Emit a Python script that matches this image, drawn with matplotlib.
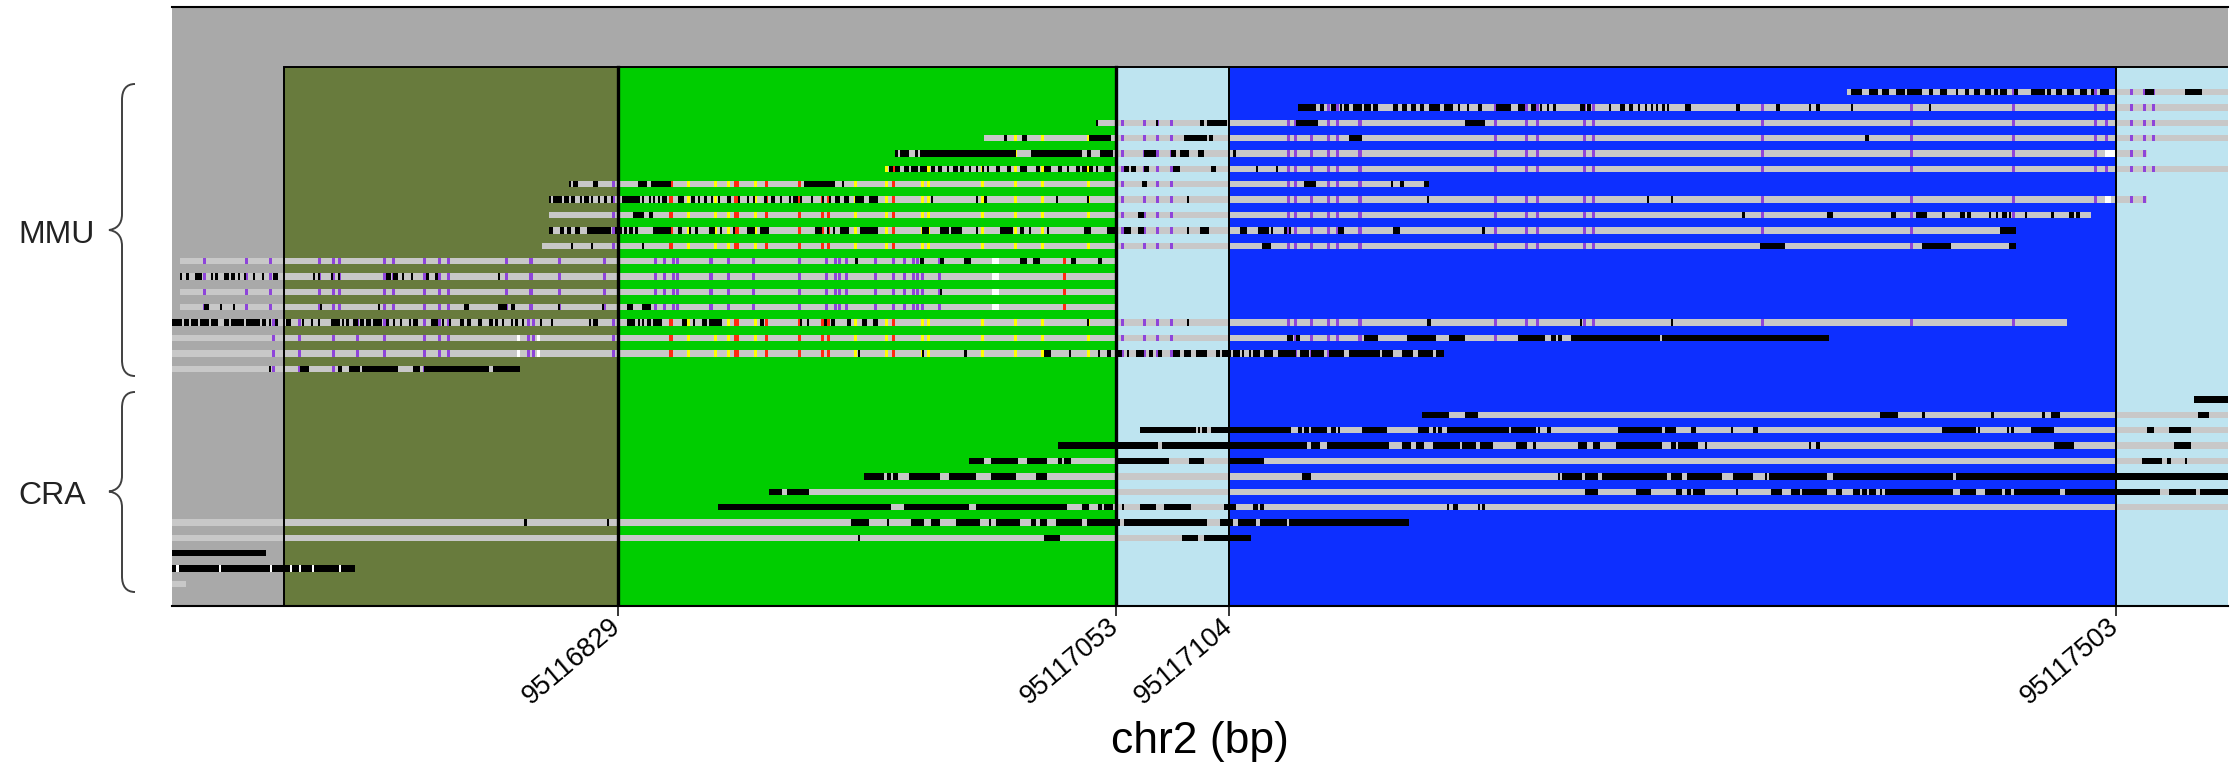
import matplotlib
matplotlib.use("Agg")
import matplotlib.pyplot as plt
from matplotlib.patches import Rectangle, PathPatch
from matplotlib.path import Path

plt.rcParams['font.family'] = ['Liberation Sans', 'DejaVu Sans']

# ---------------- data (bp offsets relative to BP0) ----------------
BP0 = 95116600
X_RANGE = (28.5, 953.5)

REGION_START = [79, 229, 453, 504, 903]
REGION_END = [229, 453, 504, 903, 960]
REGION_COLOR = ['#687B3D', '#00CD00', '#BEE4F0', '#0D2FFF', '#BEE4F0']

TICK_BP = [95116829, 95117053, 95117104, 95117503]
TICK_LABELS = ['95116829', '95117053', '95117104', '95117503']
X_LABEL = 'chr2 (bp)'

GROUP_LABELS = ['MMU', 'CRA']

READ_ROW = list(range(0, 19)) + list(range(20, 33))
READ_START = [782, 535, 444, 394, 354, 350, 207, 198, 198, 198, 195, 32, 32, 32, 32, 20, 20, 20, 20,
              938, 591, 464, 427, 387, 340, 297, 274, 20, 20, 20, 20, 20]
READ_END = [960, 960, 960, 960, 917, 960, 594, 917, 892, 858, 858, 453, 453, 453, 453, 881, 774, 601, 185,
            960, 960, 960, 960, 960, 960, 960, 960, 585, 514, 71, 111, 35]

PURPLE_P1 = [43, 62, 73, 95, 101, 104, 124, 128, 142, 149, 153, 179, 190, 203, 223, 246, 250, 254, 256,
             271, 279, 290, 311, 323, 327, 329, 332, 345, 353, 358, 362, 364, 366, 374]
PURPLE_P2 = [456, 466, 472, 478, 531, 534, 541, 549, 553, 563, 624, 638, 643, 664, 668, 744, 811, 857,
             894, 899, 910, 916, 920]
PURPLE_P3 = [74, 86, 101, 112, 124, 142, 149, 153, 189, 191, 227]
GREEN_RED = [253, 282, 283, 296, 311, 321, 324, 353]
GREEN_YELLOW = [261, 273, 279, 291, 336, 350, 366, 369, 393, 408, 420, 441]
RED_P1 = [430]

READ_SETS = ([['P2'], ['P2']] + [['GR', 'GY', 'P2']] * 4 + [['P3', 'GR', 'GY', 'P2']] * 5 +
             [['P1', 'R1']] * 4 + [['P3', 'GR', 'GY', 'P2']] * 3 + [['P3']] + [[]] * 13)

READ_WHITE = [[], [], [], [], [(898, 903)], [], [], [(898, 901)], [], [], [],
              [(397.5, 400.5)], [(397.5, 400.5)], [(397.5, 400.5)], [(397.5, 400.5)],
              [], [(183.5, 185), (192.5, 194)], [(183.5, 185), (192.5, 194)], [],
              [], [], [], [], [], [], [], [], [], [], [],
              [(30.5, 31.5), (49.5, 50.5), (72.5, 73.5), (81.5, 82.5), (85.5, 86.5), (91.5, 92.5), (103.5, 104.5)],
              []]

READ_BLACK = [
    [(784, 789), (792, 796), (798, 801), (804, 808), (809, 816), (819, 821), (824, 827), (831, 832), (835, 837),
     (839, 842), (844, 847), (848, 850), (851, 854), (857, 859), (865, 871), (872, 874), (876, 879), (881, 884),
     (887, 890), (892, 893), (896, 900), (916, 920), (934, 942)],
    [(535, 543), (545, 547), (550, 552), (554, 555), (556, 558), (560, 564), (565, 568), (569, 571), (578, 580),
     (582, 584), (586, 588), (590, 592), (594, 599), (601, 605), (607, 608), (611, 612), (616, 618), (624, 631),
     (634, 637), (640, 642), (644, 645), (647, 648), (650, 651), (662, 664), (665, 667), (675, 676), (680, 682),
     (684, 686), (688, 689), (691, 692), (694, 695), (696, 697), (699, 700), (701, 702), (709, 712), (732, 734),
     (750, 752), (765, 766), (768, 770), (784, 785), (819, 820)],
    [(444, 445), (471, 472), (491, 493), (494, 503), (534, 544), (610, 619)],
    [(403, 404), (411, 413), (441, 451), (484, 494), (495, 497), (558, 564), (790, 792)],
    [(354, 355), (356, 360), (363, 364), (365, 408), (415, 438), (440, 442), (446, 452), (466, 471), (478, 480),
     (482, 486), (490, 493), (506, 507)],
    [(351, 353), (354, 356), (358, 360), (361, 364), (365, 368), (370, 372), (373, 375), (377, 378), (380, 382),
     (383, 385), (387, 388), (390, 391), (393, 394), (395, 396), (399, 401), (404, 406), (410, 413), (417, 419),
     (421, 424), (427, 429), (431, 432), (435, 437), (438, 440), (441, 443), (444, 445), (448, 451), (457, 459),
     (460, 462), (466, 468), (479, 482), (496, 498), (516, 517), (525, 526)],
    [(207, 208), (209, 211), (218, 220), (238, 242), (244, 253), (313, 327), (330, 331), (465, 467), (538, 543),
     (577, 578), (581, 583), (592, 594)],
    [(198, 199), (200, 204), (205, 207), (208, 210), (212, 213), (214, 216), (217, 218), (220, 221), (223, 224),
     (226, 227), (231, 239), (240, 241), (243, 244), (245, 246), (247, 248), (249, 251), (256, 259), (262, 264),
     (265, 266), (268, 269), (271, 272), (274, 275), (278, 280), (283, 284), (287, 288), (290, 291), (295, 296),
     (298, 300), (302, 303), (306, 307), (308, 310), (311, 312), (316, 317), (321, 322), (324, 325), (327, 329),
     (331, 333), (336, 340), (342, 346), (370, 371), (390, 391), (394, 395), (426, 427), (440, 441), (485, 486),
     (593, 594), (692, 693), (703, 704)],
    [(236, 241), (243, 245), (463, 466), (735, 736), (773, 776), (802, 804), (813, 818), (825, 826), (833, 835),
     (836, 838), (846, 847), (849, 850), (852, 854), (855, 856), (862, 863), (874, 875), (882, 884), (885, 887)],
    [(198, 200), (203, 205), (206, 208), (210, 212), (215, 226), (228, 229), (230, 231), (232, 233), (234, 236),
     (237, 238), (245, 253), (256, 258), (261, 262), (264, 265), (270, 273), (275, 276), (281, 282), (287, 291),
     (293, 297), (318, 321), (323, 324), (326, 327), (329, 333), (338, 346), (366, 369), (374, 378), (379, 384),
     (390, 391), (401, 407), (410, 412), (414, 415), (422, 423), (439, 442), (449, 453), (457, 460), (463, 466),
     (485, 486), (491, 495), (509, 512), (517, 522), (523, 524), (529, 530), (531, 532), (553, 556), (578, 581),
     (618, 619), (851, 858)],
    [(208, 209), (217, 218), (240, 241), (519, 523), (743, 754), (816, 829), (855, 858)],
    [(336, 337), (365, 367), (374, 376), (385, 388), (410, 413), (416, 419), (433, 435), (445, 447)],
    [(32, 33), (35, 36), (39, 42), (46, 47), (48, 49), (52, 54), (55, 57), (58, 59), (61, 62), (65, 66), (69, 70),
     (74, 76), (92, 93), (94, 95), (100, 101), (103, 104), (125, 127), (128, 130), (132, 133), (136, 137),
     (143, 144), (147, 148), (175, 176)],
    [(374, 375)],
    [(43, 45), (50, 51), (56, 57), (95, 96), (121, 122), (160, 162), (175, 179), (181, 183), (202, 203),
     (222, 223), (233, 236), (240, 244)],
    [(20, 33), (34, 36), (37, 40), (41, 45), (46, 49), (52, 54), (55, 61), (62, 68), (69, 71), (72, 73), (75, 76),
     (80, 82), (87, 88), (91, 92), (94, 95), (100, 104), (105, 106), (107, 108), (110, 112), (113, 115),
     (116, 118), (119, 123), (125, 126), (128, 129), (131, 132), (135, 136), (137, 139), (145, 148), (150, 151),
     (153, 154), (158, 160), (161, 163), (166, 168), (171, 173), (174, 175), (177, 178), (181, 182), (183, 184),
     (186, 187), (194, 195), (199, 200), (216, 217), (218, 220), (229, 230), (233, 237), (238, 239), (240, 241),
     (242, 244), (245, 249), (258, 260), (263, 264), (267, 269), (270, 276), (293, 295), (311, 312), (314, 315),
     (322, 323), (325, 327), (332, 334), (339, 341), (344, 346), (440, 441), (485, 486), (593, 595), (662, 663),
     (703, 704)],
    [(530, 533), (534, 536), (565, 571), (584, 597), (603, 610), (634, 646), (649, 651), (652, 654), (658, 698),
     (699, 774)],
    [(337, 338), (366, 367), (385, 386), (421, 424), (432, 433), (445, 446), (449, 451), (454, 456), (458, 459),
     (462, 466), (468, 470), (472, 474), (479, 482), (484, 487), (489, 494), (498, 500), (501, 505), (506, 509),
     (510, 511), (513, 514), (515, 518), (520, 524), (526, 534), (536, 540), (541, 547), (549, 556), (558, 572),
     (573, 578), (582, 587), (589, 596), (597, 601)],
    [(72, 73), (86, 90), (103, 105), (108, 113), (114, 130), (137, 140), (142, 171), (173, 185)],
    # CRA
    [(938, 960)],
    [(591, 603), (610, 616), (797, 805), (816, 817), (847, 848), (870, 871), (874, 878), (940, 945)],
    [(464, 489), (490, 491), (492, 494), (496, 532), (535, 537), (538, 540), (541, 548), (550, 552), (553, 554),
     (564, 575), (589, 594), (596, 597), (598, 600), (602, 630), (631, 642), (643, 644), (647, 649), (679, 699),
     (700, 705), (712, 714), (730, 731), (740, 742), (825, 840), (841, 842), (854, 855), (856, 857), (865, 875),
     (917, 920), (927, 937)],
    [(427, 472), (474, 539), (541, 545), (548, 576), (582, 586), (588, 592), (596, 608), (609, 615), (617, 623),
     (633, 638), (641, 642), (661, 665), (668, 671), (678, 699), (703, 705), (706, 715), (718, 719), (765, 766),
     (768, 770), (875, 884), (929, 937)],
    [(387, 394), (397, 409), (413, 422), (427, 429), (430, 433), (453, 477), (486, 493), (504, 520), (915, 924),
     (926, 928), (934, 935)],
    [(340, 349), (350, 352), (353, 355), (360, 374), (378, 390), (397, 408), (417, 422), (537, 541), (652, 653),
     (654, 663), (664, 670), (672, 701), (703, 708), (710, 726), (731, 740), (745, 746), (747, 773), (776, 830),
     (831, 960)],
    [(297, 303), (305, 315), (664, 670), (687, 694), (705, 708), (710, 712), (713, 718), (732, 733), (748, 753),
     (757, 761), (762, 773), (777, 780), (785, 788), (789, 791), (792, 795), (797, 798), (799, 830), (833, 840),
     (844, 852), (853, 856), (857, 878), (880, 923), (927, 939), (941, 960)],
    [(274, 352), (358, 387), (390, 431), (438, 441), (445, 447), (448, 452), (456, 457), (464, 471), (475, 487),
     (502, 507), (515, 517), (518, 520), (602, 603), (605, 607), (616, 617), (618, 619)],
    [(187, 188), (224, 225), (334, 342), (350, 351), (361, 367), (370, 374), (381, 392), (396, 397), (399, 410),
     (415, 417), (419, 422), (426, 438), (440, 455), (457, 494), (500, 506), (508, 516), (518, 530), (531, 585)],
    [(337, 338), (421, 428), (483, 490), (493, 514)],
    [(20, 71)],
    [(20, 111)],
    [],
]

# ---------------- styles ----------------
BG_GRAY = '#A9A9A9'
READ_GRAY = '#C8C8C8'
SET_COLORS = {'P1': '#8E44DA', 'P2': '#8E44DA', 'P3': '#8E44DA', 'GR': '#FF2A10', 'GY': '#FFFF00', 'R1': '#FF2A10'}
SET_POS = {'P1': PURPLE_P1, 'P2': PURPLE_P2, 'P3': PURPLE_P3, 'GR': GREEN_RED, 'GY': GREEN_YELLOW, 'R1': RED_P1}
TICK_W = 1.4

W, H = 2239, 763
fig = plt.figure(figsize=(W / 100, H / 100), dpi=100)
ax = fig.add_axes([172 / W, 1 - 605.5 / H, (2228 - 172) / W, (605.5 - 7) / H])
ax.set_facecolor(BG_GRAY)
ax.set_xlim(BP0 + X_RANGE[0], BP0 + X_RANGE[1])
ax.set_ylim(33.40, -5.53)
REGION_TOP = -1.63
BAR_H = 0.41

for s, e, c in zip(REGION_START, REGION_END, REGION_COLOR):
    ax.add_patch(Rectangle((BP0 + s, REGION_TOP), e - s, 40, facecolor=c, edgecolor='none', zorder=1))
    ax.add_patch(Rectangle((BP0 + s, REGION_TOP), e - s, 40, facecolor='none', edgecolor='black',
                           linewidth=1.4, zorder=7))
for xb in (229, 453):
    ax.plot([BP0 + xb, BP0 + xb], [REGION_TOP, 40], color='black', lw=2.4, zorder=7)

for i, row in enumerate(READ_ROW):
    s, e = READ_START[i], READ_END[i]
    y0 = row - BAR_H / 2
    ax.broken_barh([(BP0 + s, e - s)], (y0, BAR_H), facecolors=READ_GRAY, zorder=3)
    for name in READ_SETS[i]:
        xs = [(BP0 + p - TICK_W / 2, TICK_W) for p in SET_POS[name] if s <= p <= e]
        if xs:
            ax.broken_barh(xs, (y0, BAR_H), facecolors=SET_COLORS[name], zorder=4)
    if READ_BLACK[i]:
        ax.broken_barh([(BP0 + a, b - a) for a, b in READ_BLACK[i]], (y0, BAR_H), facecolors='black', zorder=5)
    if READ_WHITE[i]:
        ax.broken_barh([(BP0 + a, b - a) for a, b in READ_WHITE[i]], (y0, BAR_H), facecolors='white', zorder=6)

for side in ('left', 'right'):
    ax.spines[side].set_visible(False)
for side in ('top', 'bottom'):
    ax.spines[side].set_linewidth(1.5)
    ax.spines[side].set_zorder(8)
ax.set_yticks([])
ax.set_xticks(TICK_BP)
ax.set_xticklabels(TICK_LABELS)
ax.tick_params(axis='x', direction='out', length=7.5, width=1.1, pad=5.5, labelsize=19.5)
for lab in ax.get_xticklabels():
    lab.set_rotation(40)
    lab.set_ha('right')
    lab.set_va('center')
    lab.set_rotation_mode('anchor')

fig.text(1200 / W, 1 - 741 / H, X_LABEL, ha='center', va='center', fontsize=32)


def px(x, y):
    return (x / W, 1 - y / H)


def brace(top, mid, bot, xt=109, xl=122, xe=135, r=16):
    pts = [(xe, top),
           (126, top), (xl, top + 6), (xl, top + r),
           (xl, mid - r),
           (xl, mid - 5), (116, mid - 1), (xt, mid),
           (116, mid + 1), (xl, mid + 5), (xl, mid + r),
           (xl, bot - r),
           (xl, bot - 6), (126, bot), (xe, bot)]
    codes = ([Path.MOVETO] + [Path.CURVE4] * 3 + [Path.LINETO] + [Path.CURVE4] * 6 +
             [Path.LINETO] + [Path.CURVE4] * 3)
    path = Path([px(*p) for p in pts], codes)
    fig.patches.append(PathPatch(path, facecolor='none', edgecolor='#404040', lw=1.4,
                                 transform=fig.transFigure))


brace(84, 230, 376)
brace(392, 491.5, 592)
fig.text(*px(18, 243), GROUP_LABELS[0], ha='left', va='baseline', fontsize=23, color='#222222')
fig.text(*px(18, 503.5), GROUP_LABELS[1], ha='left', va='baseline', fontsize=23, color='#222222')

fig.savefig('out.png', dpi=100)
